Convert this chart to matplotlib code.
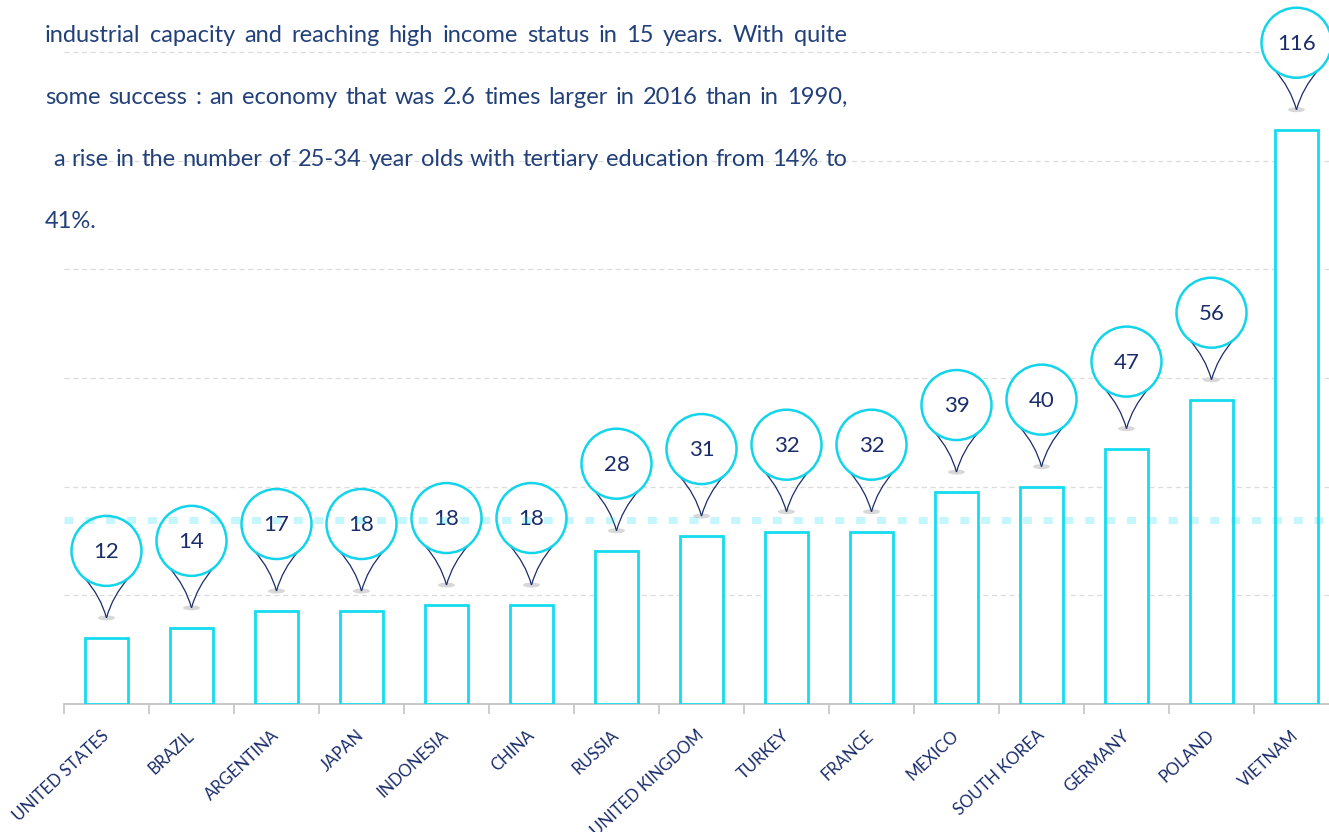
import numpy as np
import matplotlib.pyplot as plt
from matplotlib.patches import Circle, Ellipse, PathPatch
from matplotlib.path import Path
from matplotlib.transforms import ScaledTranslation, IdentityTransform

countries = ['UNITED STATES', 'BRAZIL', 'ARGENTINA', 'JAPAN', 'INDONESIA', 'CHINA',
             'RUSSIA', 'UNITED KINGDOM', 'TURKEY', 'FRANCE', 'MEXICO', 'SOUTH KOREA',
             'GERMANY', 'POLAND', 'VIETNAM']
barVals = [12.15, 14.0, 17.1, 17.1, 18.2, 18.2, 28.2, 30.9, 31.7, 31.7,
           39.0, 40.0, 47.0, 56.0, 105.7]
pinLabels = ['12', '14', '17', '18', '18', '18', '28', '31', '32', '32',
             '39', '40', '47', '56', '116']
avgVal = 33.9
paragraph = ['industrial capacity and reaching high income status in 15 years. With quite',
             'some success : an economy that was 2.6 times larger in 2016 than in 1990,',
             ' a rise in the number of 25-34 year olds with tertiary education from 14% to',
             '41%.']

cyan = '#14dcf0'
navy = '#1a2d6b'
textCol = '#22407a'
plt.rcParams['font.family'] = ['Lato', 'DejaVu Sans']

W, H = 1329, 832
fig = plt.figure(figsize=(W / 100, H / 100), dpi=100)
ax = fig.add_axes([64 / W, (H - 704) / H, 1275 / W, 704 / H])
ax.set_xlim(-0.5, 14.5)
ax.set_ylim(0, 129.6)

x = np.arange(len(countries))
ax.bar(x, barVals, width=0.5, facecolor='white', edgecolor=cyan, linewidth=2.0, zorder=3)

ax.set_yticks(np.arange(0, 121, 20))
ax.yaxis.grid(True, color='#dcdcdc', linestyle=(0, (4, 3)), linewidth=0.9)
ax.tick_params(axis='y', left=False, labelleft=False)
for s in ['top', 'right', 'left']:
    ax.spines[s].set_visible(False)
ax.spines['bottom'].set_color('#c4c4c4')
ax.spines['bottom'].set_linewidth(1.3)
ax.set_axisbelow(True)

ax.set_xticks(x)
ax.set_xticklabels(countries, rotation=43, ha='right', va='center',
                   rotation_mode='anchor', fontsize=12, color=navy)
ax.tick_params(axis='x', which='major', length=0, pad=21)
ax.set_xticks(np.arange(-0.5, 15, 1), minor=True)
ax.tick_params(axis='x', which='minor', length=7.5, width=1.2, color='#c4c4c4')

ax.axhline(avgVal, color=cyan, alpha=0.25, linewidth=5, linestyle=(0, (1.3, 1.7)),
           dash_capstyle='butt', zorder=10)

# pins, drawn in inches around the tip point
for i, (v, lab) in enumerate(zip(barVals, pinLabels)):
    tr = fig.dpi_scale_trans + ScaledTranslation(i, v + 3.7, ax.transData)
    cy, r = 0.67, 0.35
    ax.add_patch(Ellipse((0, 0), 0.17, 0.05, transform=tr, facecolor='#d8d8d8',
                         edgecolor='none', zorder=4, clip_on=False))
    for sgn in (-1, 1):
        p = Path([(sgn * 0.22, cy - 0.272), (sgn * 0.06, 0.22), (0, 0)],
                 [Path.MOVETO, Path.CURVE3, Path.CURVE3])
        ax.add_patch(PathPatch(p, transform=tr, facecolor='none', edgecolor=navy,
                               linewidth=0.9, zorder=5, clip_on=False))
    ax.add_patch(Circle((0, cy), r, transform=tr, facecolor='white', edgecolor='#12d4ea',
                        linewidth=1.8, zorder=6, clip_on=False))
    ax.text(0, cy - 0.01, lab, transform=tr, ha='center', va='center', fontsize=16,
            color=navy, zorder=7, clip_on=False)

# justified paragraph at the top left
fig.canvas.draw()
renderer = fig.canvas.get_renderer()
baselines = [42, 104, 166, 228]
for k, line in enumerate(paragraph):
    left = 53 if line.startswith(' ') else 45
    words = line.split()
    txts = [fig.text(0, 0, w, transform=IdentityTransform(), fontsize=17,
                     color=textCol, va='baseline', ha='left') for w in words]
    widths = [t.get_window_extent(renderer).width for t in txts]
    if k < len(paragraph) - 1 and len(words) > 1:
        gap = (847 - left - sum(widths)) / (len(words) - 1)
    else:
        gap = 6
    cur = left
    for t, wd in zip(txts, widths):
        t.set_position((cur, H - baselines[k]))
        cur += wd + gap

fig.savefig('out.png', dpi=100)
